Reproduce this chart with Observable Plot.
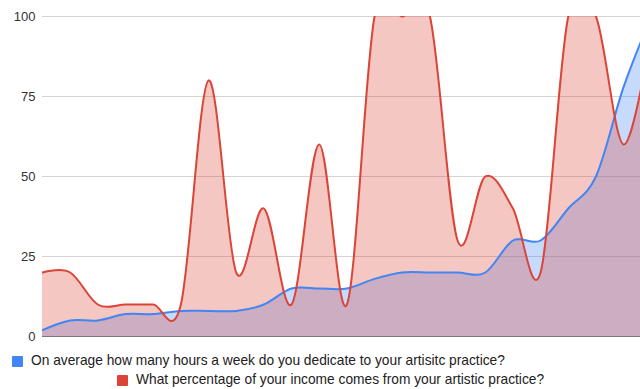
<!DOCTYPE html>
<html>
<head>
<meta charset="utf-8">
<script src="https://cdn.jsdelivr.net/npm/d3@7"></script>
<script src="https://cdn.jsdelivr.net/npm/@observablehq/plot@0.6"></script>
<style>
  body { margin: 0; background: #fff; font-family: "Liberation Sans", Arial, sans-serif; }
  #chart svg { display: block; }
  .legend { position: relative; height: 44px; font-size: 13.75px; color: #222; }
  .item { position: absolute; display: flex; align-items: center; white-space: nowrap; line-height: 16px; }
  .swatch { width: 11px; height: 11px; margin-right: 8px; border-radius: 1px; }
</style>
</head>
<body>
<div id="chart"></div>
<div class="legend" id="legend"></div>
<script>
// Survey responses, one entry per respondent (sorted by hours)
const respondents = d3.range(23);
const hoursPerWeek = [2, 5, 5, 7, 7, 8, 8, 8, 10, 15, 15, 15, 18, 20, 20, 20, 20, 30, 30, 40, 50, 78, 100];
const incomeShare = [20, 20, 10, 10, 10, 10, 80, 20, 40, 10, 60, 10, 100, 100, 100, 30, 50, 40, 20, 100, 100, 60, 95];
const yTicks = [0, 25, 50, 75, 100];

const seriesNames = [
  "On average how many hours a week do you dedicate to your artisitc practice?",
  "What percentage of your income comes from your artistic practice?"
];
const colors = ["#4285f4", "#db4437"];

const hoursRows = respondents.map(i => ({i, v: hoursPerWeek[i]}));
const incomeRows = respondents.map(i => ({i, v: incomeShare[i]}));

const common = {x: "i", y: "v", curve: "cardinal", clip: true};

const chart = Plot.plot({
  width: 640,
  height: 345,
  marginLeft: 42,
  marginRight: 0,
  marginTop: 16,
  marginBottom: 9,
  style: {fontFamily: "Liberation Sans, Arial, sans-serif", fontSize: "13px", color: "#444"},
  x: {domain: [0, 21.61], axis: null},
  y: {domain: [0, 100], axis: null},
  marks: [
    Plot.ruleY(yTicks.filter(d => d > 0), {stroke: "#d4d4d4", strokeWidth: 1}),
    Plot.areaY(hoursRows, {...common, fill: colors[0], fillOpacity: 0.3}),
    Plot.areaY(incomeRows, {...common, fill: colors[1], fillOpacity: 0.3}),
    Plot.lineY(hoursRows, {...common, stroke: colors[0], strokeWidth: 2}),
    Plot.lineY(incomeRows, {...common, stroke: colors[1], strokeWidth: 2}),
    Plot.ruleY([0], {stroke: "#777", strokeWidth: 1.2}),
    Plot.axisY({ticks: yTicks, tickSize: 0, tickPadding: 7, fill: "#333", label: null})
  ]
});
document.getElementById("chart").append(chart);

// Legend: two rows, each with its own indent
const legend = d3.select("#legend");
const positions = [{left: 12, top: 8}, {left: 117, top: 27}];
seriesNames.forEach((name, k) => {
  const item = legend.append("div").attr("class", "item")
    .style("left", positions[k].left + "px").style("top", positions[k].top + "px");
  item.append("div").attr("class", "swatch").style("background", colors[k]);
  item.append("span").text(name);
});
</script>
</body>
</html>
